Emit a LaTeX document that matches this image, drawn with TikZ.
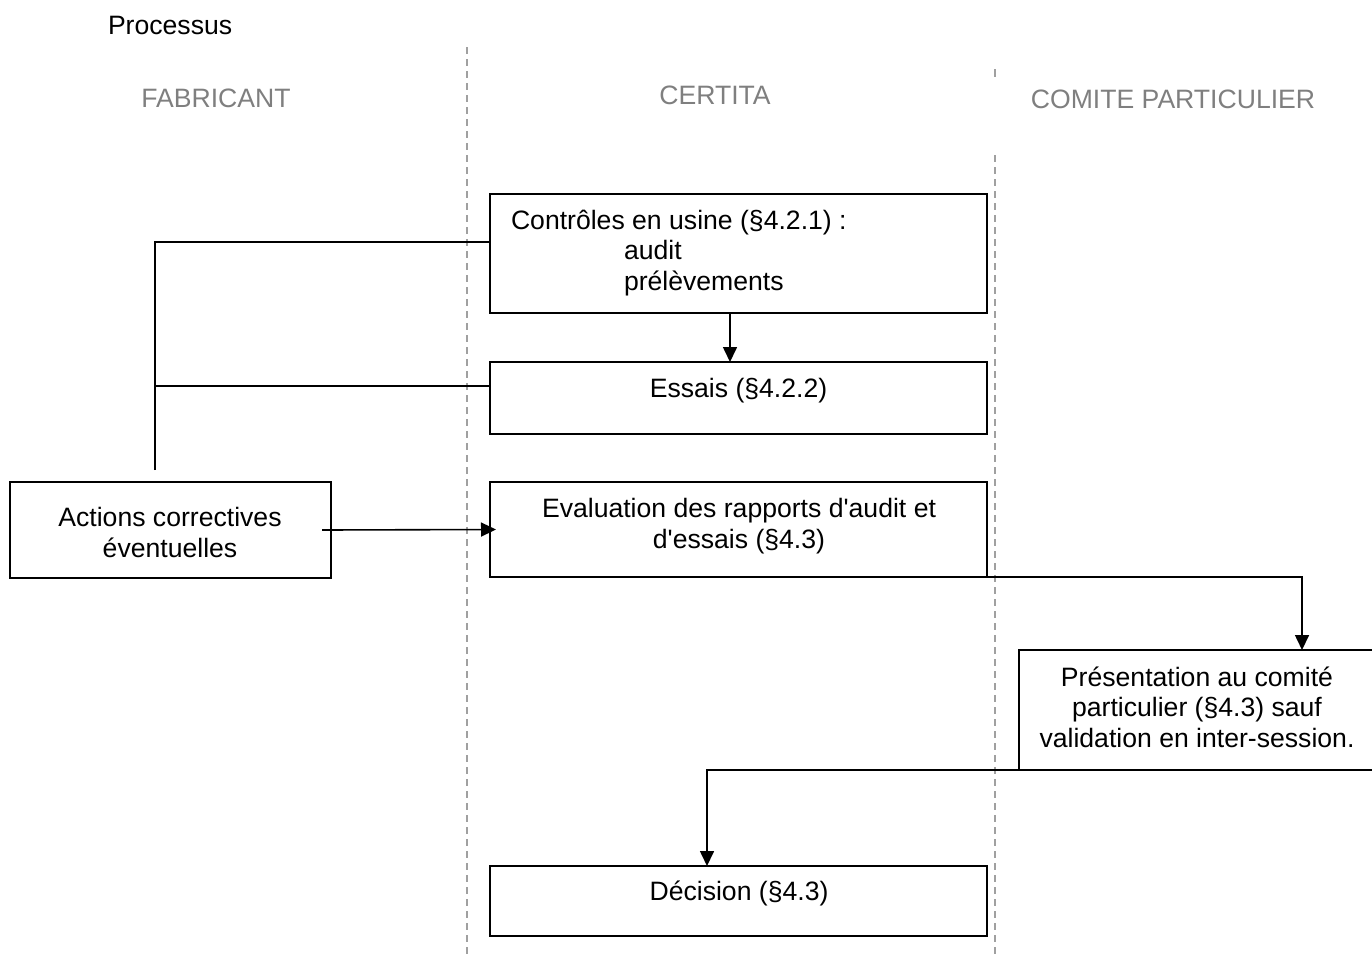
\documentclass[tikz,border=0pt]{standalone}
\usepackage{fontspec}
\setmainfont{Liberation Sans}
\usetikzlibrary{arrows.meta}
\definecolor{lanegray}{HTML}{7F7F7F}
\definecolor{dashgray}{HTML}{A0A0A0}
\begin{document}
\begin{tikzpicture}[x=1pt,y=-1pt,
  every node/.style={font=\fontsize{26.6}{30.6}\selectfont, inner sep=0pt, outer sep=0pt},
  box/.style={draw, line width=1.8pt, rectangle, inner sep=0pt, outer sep=0pt},
  txt/.style={anchor=base},
  lane/.style={anchor=base, text=lanegray},
  sep/.style={draw=dashgray, line width=1.5pt, dash pattern=on 7pt off 5pt},
  conn/.style={line width=1.6pt},
  arr/.style={line width=1.6pt, -{Triangle[length=15pt,width=14pt]}}]
\useasboundingbox (0,0) rectangle (1372,956);

% title and lanes
\node[anchor=base west] (title) at (108,34) {Processus};
\node[lane] (fab) at (216,107.5) {FABRICANT};
\node[lane] (cer) at (715,104.5) {CERTITA};
\node[lane] (com) at (1173,108.5) {COMITE PARTICULIER};

% lane separators
\coordinate (s1t) at (467,47);
\coordinate (s1b) at (467,956);
\coordinate (s2a) at (995,69);
\coordinate (s2b) at (995,77);
\coordinate (s2t) at (995,155);
\coordinate (s2e) at (995,956);
\draw[sep] (s1t) -- (s1b);
\draw[draw=dashgray, line width=1.5pt] (s2a) -- (s2b);
\draw[sep] (s2t) -- (s2e);

% boxes
\node[box, minimum width=497pt, minimum height=119pt] (ctrl) at (738.5,253.5) {};
\node[box, minimum width=497pt, minimum height=72pt] (ess) at (738.5,398) {};
\node[box, minimum width=497pt, minimum height=95pt] (eval) at (738.5,529.5) {};
\node[box, minimum width=321pt, minimum height=96pt] (act) at (170.5,530) {};
\node[box, minimum width=354pt, minimum height=120pt] (pres) at (1196,710) {};
\node[box, minimum width=497pt, minimum height=70pt] (dec) at (738.5,901) {};

% texts
\node[anchor=base west] (c1) at (511,229.5) {Contrôles en usine (§4.2.1) :};
\node[anchor=base west] (c2) at (624,259.5) {audit};
\node[anchor=base west] (c3) at (624,290) {prélèvements};
\node[txt] (e1) at (738.5,397) {Essais (§4.2.2)};
\node[txt] (v1) at (739,517) {Evaluation des rapports d\textquotesingle audit et};
\node[txt] (v2) at (739,548) {d\textquotesingle essais (§4.3)};
\node[txt] (a1) at (170,526) {Actions correctives};
\node[txt] (a2) at (170,557) {éventuelles};
\node[txt] (p1) at (1197,686) {Présentation au comité};
\node[txt] (p2) at (1197,716.5) {particulier (§4.3) sauf};
\node[txt] (p3) at (1197,747) {validation en inter-session.};
\node[txt] (d1) at (739,900) {Décision (§4.3)};

% connectors
\coordinate (lt) at (155,242);
\coordinate (lm) at (155,386);
\coordinate (lb) at (155,470);
\draw[conn] (lb) -- (lt) -- (lt -| ctrl.west);
\draw[conn] (lm) -- (lm -| ess.west);

\coordinate (xa) at (730,0);
\draw[arr] (ctrl.south -| xa) -- (ess.north -| xa);

\draw[arr] ([xshift=-9pt]act.east) -- ([xshift=6pt]eval.west);

\coordinate (xb) at (707,0);
\coordinate (xc) at (1302,0);
\coordinate (xd) at (1307,0);
\draw[arr] (eval.south -| xb) -| (pres.north -| xc);
\draw[arr] (pres.south -| xd) -| (dec.north -| xb);
\end{tikzpicture}
\end{document}
